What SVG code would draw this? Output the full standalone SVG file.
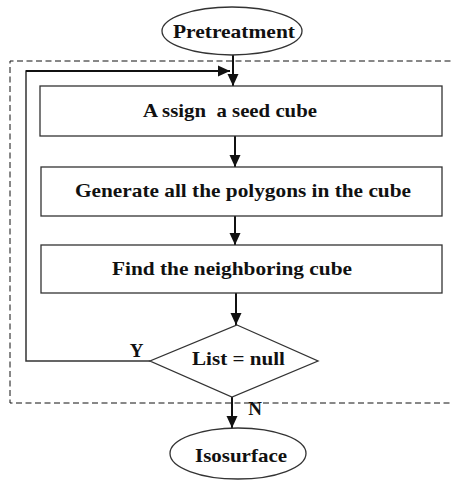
<svg xmlns="http://www.w3.org/2000/svg" width="453" height="480" viewBox="0 0 453 480">
<style>
text{font-family:'Liberation Serif','Times New Roman','DejaVu Serif',serif;font-weight:bold;font-size:19px;fill:#111;text-anchor:middle;white-space:pre}
.s{fill:#fff;stroke:#333;stroke-width:1.3}
.c{fill:none;stroke:#111;stroke-width:2}
.l{fill:none;stroke:#333;stroke-width:1.5}
</style>
<defs>
<marker id="a" viewBox="0 0 12 12" refX="12" refY="6" markerWidth="6" markerHeight="6" orient="auto" markerUnits="strokeWidth">
<path d="M0,0.5 L12,6 L0,11.5 z" fill="#111"/>
</marker>
</defs>
<path d="M460,61 H10 V403 H460" fill="none" stroke="#111" stroke-width="1" stroke-dasharray="6,3.5"/>
<g id="connectors">
<path class="c" d="M233,55 V86" marker-end="url(#a)"/>
<path class="l" d="M150,361 H26 V71 H220"/>
<path class="c" d="M26,71 H230" marker-end="url(#a)"/>
<path class="c" d="M235,136 V167" marker-end="url(#a)"/>
<path class="c" d="M235,216 V245" marker-end="url(#a)"/>
<path class="c" d="M236,293 V325" marker-end="url(#a)"/>
<path class="c" d="M232,397 V428" marker-end="url(#a)"/>
<text x="136.5" y="357" font-family="Liberation Serif, serif">Y</text>
<text x="255" y="415" font-family="Liberation Serif, serif">N</text>
</g>
<g id="pretreatment">
<ellipse class="s" cx="232" cy="31" rx="70" ry="24"/>
<text x="234" y="38" textLength="122" lengthAdjust="spacingAndGlyphs" font-family="Liberation Serif, serif">Pretreatment</text>
</g>
<g id="assign">
<rect class="s" x="40" y="86" width="402" height="50"/>
<text x="230" y="117" textLength="174" lengthAdjust="spacingAndGlyphs" font-family="Liberation Serif, serif">A ssign  a seed cube</text>
</g>
<g id="generate">
<rect class="s" x="41" y="167" width="401" height="49"/>
<text x="243" y="197" textLength="336" lengthAdjust="spacingAndGlyphs" font-family="Liberation Serif, serif">Generate all the polygons in the cube</text>
</g>
<g id="find">
<rect class="s" x="41" y="245" width="401" height="48"/>
<text x="232" y="275" textLength="240" lengthAdjust="spacingAndGlyphs" font-family="Liberation Serif, serif">Find the neighboring cube</text>
</g>
<g id="decision">
<polygon class="s" points="237,325 318,361 232,397 150,361"/>
<text x="238.5" y="365" textLength="93" lengthAdjust="spacingAndGlyphs" font-family="Liberation Serif, serif">List = null</text>
</g>
<g id="isosurface">
<ellipse class="s" cx="238" cy="453.5" rx="68" ry="25.5"/>
<text x="241" y="462" textLength="92" lengthAdjust="spacingAndGlyphs" font-family="Liberation Serif, serif">Isosurface</text>
</g>
</svg>
